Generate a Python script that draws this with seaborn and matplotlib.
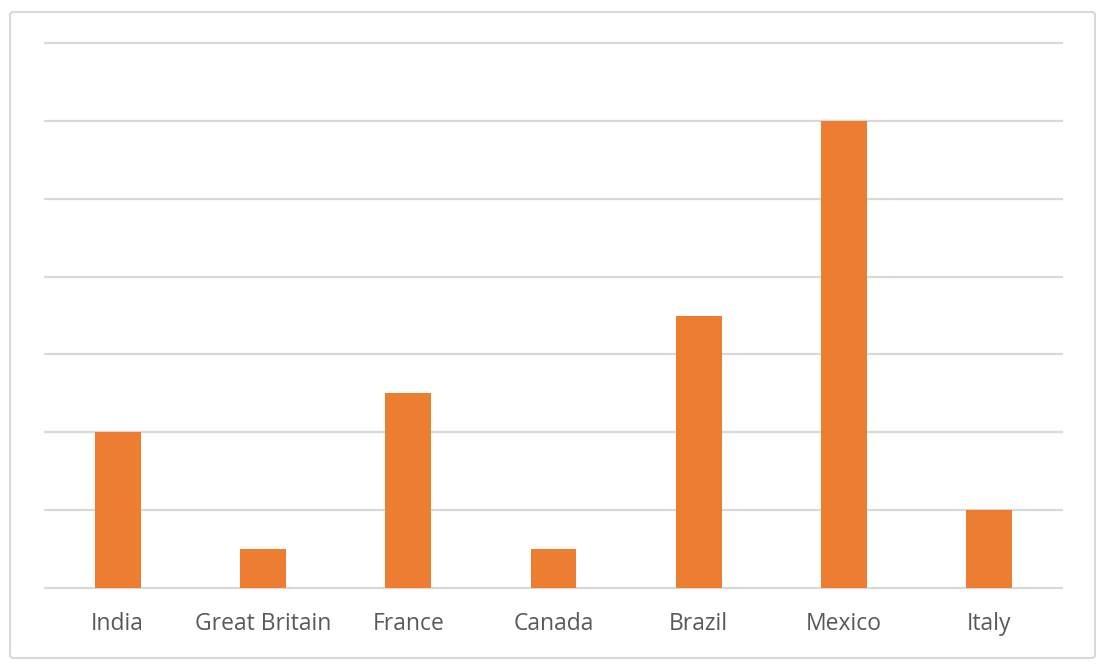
import seaborn as sns
import matplotlib.pyplot as plt
import pandas as pd
from matplotlib.patches import FancyBboxPatch

countries = ["India", "Great Britain", "France", "Canada", "Brazil", "Mexico", "Italy"]
values = [2, 0.5, 2.5, 0.5, 3.5, 6, 1]

sns.set_theme(style="white")
plt.rcParams['font.family'] = ['Open Sans', 'DejaVu Sans']

df = pd.DataFrame({"country": countries, "value": values})

fig = plt.figure(figsize=(11.05, 6.70), dpi=100)
ax = fig.add_axes([0.0407, 0.1224, 0.9204, 0.8134])

sns.barplot(data=df, x="country", y="value", color="#ED7D31", width=0.315,
            saturation=1, linewidth=0, ax=ax, zorder=3)

ax.set_ylim(0, 7)
ax.set_yticks(range(0, 8))
ax.yaxis.grid(True, color="#d9d9d9", linewidth=1.6, zorder=0)
for gl in ax.get_ygridlines():
    gl.set_clip_on(False)
ax.set_yticklabels([])
ax.tick_params(axis="y", length=0)
ax.tick_params(axis="x", length=0, pad=17, labelsize=16.5, labelcolor="#595959")
ax.set_xlabel("")
ax.set_ylabel("")
for s in ax.spines.values():
    s.set_visible(False)

border = FancyBboxPatch((10 / 1105, 12 / 670), 1085 / 1105, 646 / 670,
                        boxstyle="round,pad=0,rounding_size=0.004",
                        transform=fig.transFigure, fill=False,
                        edgecolor="#d9d9d9", linewidth=1.5)
fig.patches.append(border)

fig.savefig("out.png", dpi=100)
